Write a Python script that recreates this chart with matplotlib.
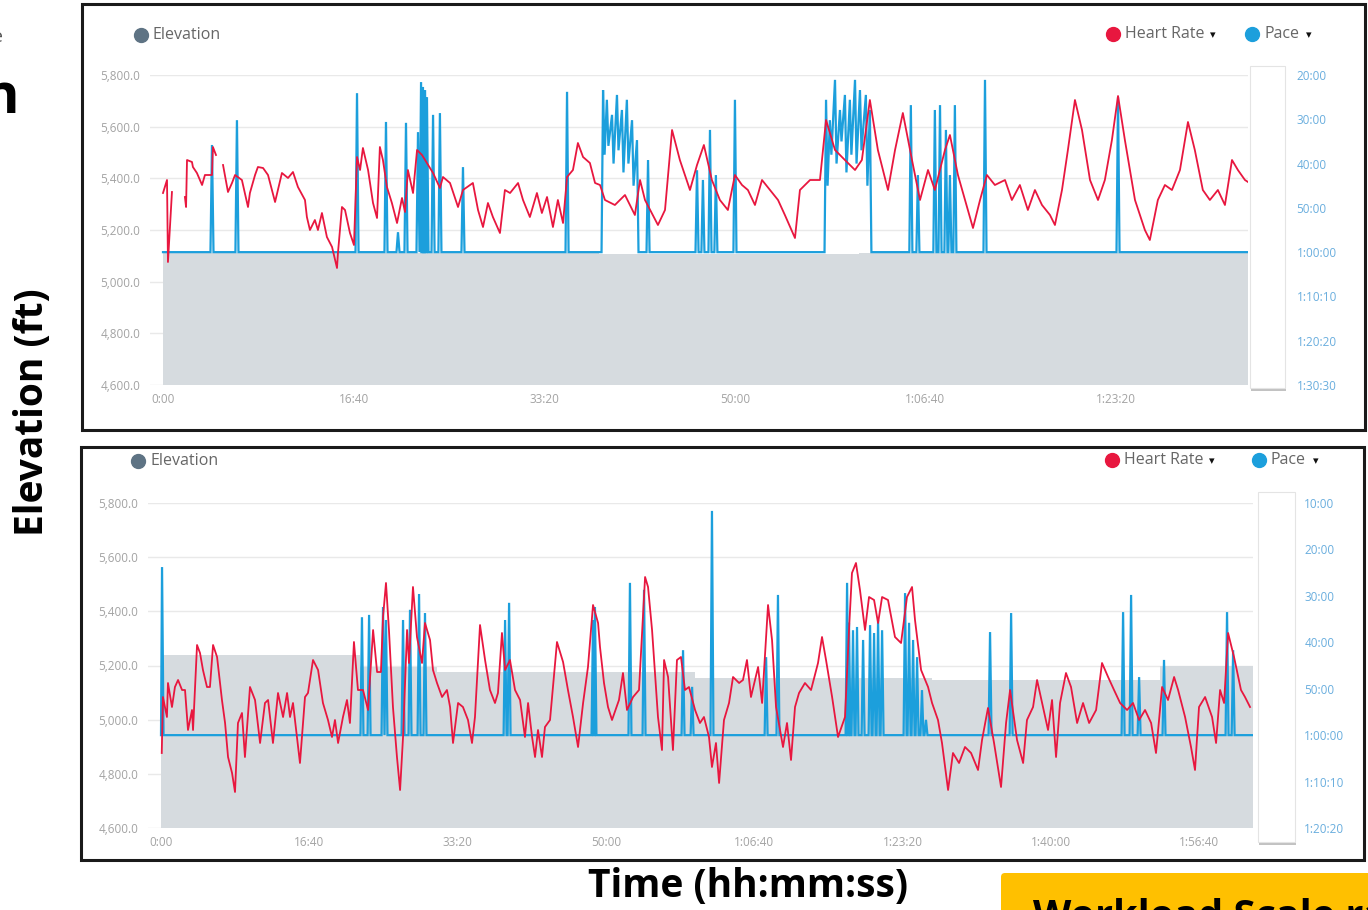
import matplotlib.pyplot as plt
from matplotlib.patches import Rectangle, FancyBboxPatch
import numpy as np

W, H = 1368, 910

# axis ticks (time in seconds, 1000 s = 16:40)
time_ticks_top = [0, 1000, 2000, 3000, 4000, 5000]
time_labels_top = ["0:00", "16:40", "33:20", "50:00", "1:06:40", "1:23:20"]
time_ticks_bot = [0, 1000, 2000, 3000, 4000, 5000, 6000, 7000]
time_labels_bot = ["0:00", "16:40", "33:20", "50:00", "1:06:40", "1:23:20", "1:40:00", "1:56:40"]
elev_ticks = [4600, 4800, 5000, 5200, 5400, 5600, 5800]
elev_labels = ["4,600.0", "4,800.0", "5,000.0", "5,200.0", "5,400.0", "5,600.0", "5,800.0"]
pace_ticks_top = [20, 30, 40, 50, 60, 70, 80, 90]
pace_labels_top = ["20:00", "30:00", "40:00", "50:00", "1:00:00", "1:10:10", "1:20:20", "1:30:30"]
pace_ticks_bot = [10, 20, 30, 40, 50, 60, 70, 80]
pace_labels_bot = ["10:00", "20:00", "30:00", "40:00", "50:00", "1:00:00", "1:10:10", "1:20:20"]

# elevation (ft), stepwise
elev_top_t = [0, 2290, 3650, 5693]
elev_top = [5110, 5106, 5110, 5110]
elev_bot_t = [0, 1342, 1861, 3601, 5199, 6736, 7363]
elev_bot = [5240, 5195, 5175, 5155, 5148, 5200, 5200]

# heart rate (bpm, hidden axis) as (seconds, bpm); nan = gap in record
hr_top = [(0, 136), (21, 142.5), (26, 101.5), (47, 136.5), (60, np.nan), (100, 142.5), (110, np.nan),
          (115, 134), (121, 129), (126, 152.5), (152, 151.5), (157, 149), (178, 146), (205, 140),
          (220, 145), (257, 145), (262, 159), (278, 155), (290, np.nan), (315, 150), (341, 136.5),
          (362, 141), (378, 145), (414, 142.5), (446, 129), (456, 136), (483, 145), (498, 149),
          (525, 148.5), (551, 145), (588, 131.5), (624, 146), (656, 143.5), (682, 146.5), (708, 139),
          (745, 132.5), (755, 124), (771, 117.5), (797, 122.5), (813, 117.5), (834, 126), (860, 114),
          (887, 109), (913, 98.5), (918, 106), (939, 129), (955, 127.5), (981, 116), (1002, 110),
          (1018, 154), (1034, 147.5), (1049, 158.5), (1076, 147.5), (1102, 131), (1123, 123.5),
          (1138, 159), (1154, 152.5), (1175, 139), (1201, 131), (1228, 121), (1254, 133.5),
          (1270, 126.5), (1285, 147.5), (1312, 136), (1333, 157.5), (1359, 155), (1385, 151),
          (1417, 146), (1453, 138.5), (1469, 144), (1506, 141), (1548, 129), (1574, 137.5),
          (1626, 141), (1653, 127.5), (1679, 119), (1705, 131), (1731, 124), (1768, 116),
          (1794, 137.5), (1821, 136), (1863, 141), (1889, 132.5), (1925, 124), (1962, 136),
          (1988, 126), (2015, 134), (2046, 119), (2072, 132.5), (2099, 121), (2120, 144),
          (2151, 147.5), (2177, 161), (2204, 154), (2240, 151), (2267, 141), (2293, 140),
          (2319, 132.5), (2371, 130), (2424, 135), (2476, 125), (2503, 142.5), (2529, 132.5),
          (2597, 120), (2634, 127.5), (2671, 167.5), (2712, 152.5), (2765, 137.5), (2802, 150),
          (2838, 160), (2880, 142.5), (2922, 132.5), (2964, 127.5), (3001, 145), (3038, 140),
          (3069, 137.5), (3106, 130), (3143, 142.5), (3185, 137.5), (3227, 132.5), (3263, 125),
          (3316, 113.5), (3342, 137.5), (3395, 142.5), (3447, 142.5), (3479, 172.5), (3526, 157.5),
          (3578, 152.5), (3631, 147.5), (3667, 152.5), (3709, 182.5), (3751, 157.5), (3804, 137.5),
          (3841, 157.5), (3882, 176), (3930, 152.5), (3972, 132.5), (4014, 147.5), (4050, 137.5),
          (4103, 157.5), (4129, 165), (4171, 145), (4208, 132.5), (4250, 118.5), (4287, 132.5),
          (4323, 145), (4365, 140), (4418, 142.5), (4454, 132.5), (4496, 140), (4538, 127.5),
          (4575, 137.5), (4612, 130), (4654, 125), (4680, 120), (4717, 137.5), (4748, 157.5),
          (4785, 182.5), (4822, 167.5), (4864, 142.5), (4906, 132.5), (4942, 142.5), (4979, 162.5),
          (5011, 184.5), (5047, 162.5), (5100, 132.5), (5152, 117.5), (5178, 112.5), (5220, 132.5),
          (5257, 140), (5294, 137.5), (5336, 147.5), (5378, 171.5), (5414, 157.5), (5456, 137.5),
          (5493, 132.5), (5535, 137.5), (5572, 130), (5609, 152.5), (5640, 147.5), (5677, 142.5),
          (5693, 141.5)]

hr_bot = [(5, 107.5), (13, 135.5), (40, 125.5), (47, 142.5), (74, 130.5), (94, 140.5), (115, 144),
          (142, 139), (162, 139), (182, 119), (209, 129), (216, 119), (243, 161.5), (263, 157.5),
          (283, 149), (310, 140.5), (330, 140.5), (351, 161.5), (378, 155.5), (411, 134), (432, 122.5),
          (452, 105.5), (479, 97.5), (499, 88), (519, 122.5), (546, 127.5), (566, 105.5), (600, 140.5),
          (634, 134), (668, 112.5), (701, 132.5), (722, 134), (755, 112.5), (789, 137.5), (823, 125.5),
          (850, 137.5), (870, 125.5), (890, 132.5), (937, 102.5), (971, 135.5), (991, 137.5),
          (1025, 154), (1059, 149), (1092, 132.5), (1126, 124), (1153, 115.5), (1173, 124),
          (1194, 112.5), (1227, 125.5), (1254, 134), (1274, 122.5), (1301, 163), (1328, 139),
          (1362, 139), (1396, 129), (1430, 169), (1457, 148), (1483, 148), (1497, 175.5),
          (1517, 192.5), (1537, 169), (1564, 130.5), (1591, 105.5), (1612, 89), (1632, 115.5),
          (1659, 169), (1672, 152.5), (1699, 190.5), (1726, 165.5), (1760, 152.5), (1780, 172.5),
          (1814, 164), (1834, 149), (1861, 142.5), (1895, 135.5), (1928, 139), (1949, 130.5),
          (1969, 112.5), (2003, 132.5), (2036, 130.5), (2070, 124), (2097, 112.5), (2117, 125.5),
          (2151, 171.5), (2185, 154), (2218, 139), (2252, 132.5), (2272, 137.5), (2299, 167.5),
          (2320, 149), (2353, 154), (2387, 139), (2421, 134), (2454, 115.5), (2475, 132.5),
          (2502, 115.5), (2522, 105.5), (2542, 119), (2569, 105.5), (2589, 120.5), (2623, 124),
          (2670, 163), (2711, 153), (2744, 139), (2778, 125.5), (2812, 110.5), (2846, 132.5),
          (2879, 150.5), (2913, 181.5), (2947, 172.5), (2960, 160.5), (2987, 142.5), (3014, 130.5),
          (3041, 124), (3088, 134), (3115, 147.5), (3142, 129), (3183, 135.5), (3223, 139),
          (3264, 195.5), (3284, 190.5), (3311, 169), (3351, 125.5), (3378, 109), (3392, 154),
          (3419, 145.5), (3452, 109), (3479, 154), (3506, 155.5), (3533, 139), (3560, 140.5),
          (3601, 129), (3634, 122.5), (3661, 125.5), (3695, 115.5), (3715, 100.5), (3742, 112.5),
          (3763, 92.5), (3796, 124), (3830, 132.5), (3857, 145.5), (3898, 142.5), (3924, 144),
          (3951, 154), (3978, 135.5), (4026, 150.5), (4053, 132.5), (4093, 181.5), (4120, 164),
          (4147, 130.5), (4194, 110.5), (4221, 122.5), (4248, 104), (4275, 130.5), (4302, 137.5),
          (4342, 142.5), (4383, 139), (4430, 152.5), (4457, 165.5), (4484, 154), (4525, 135.5),
          (4565, 115.5), (4612, 125.5), (4639, 169), (4659, 197.5), (4686, 202.5), (4713, 189),
          (4747, 169), (4774, 185.5), (4808, 184), (4835, 172.5), (4862, 185.5), (4902, 184),
          (4949, 165.5), (4990, 162.5), (5030, 185.5), (5064, 190.5), (5084, 174), (5125, 149),
          (5172, 140.5), (5199, 132.5), (5239, 124), (5266, 112.5), (5307, 89), (5340, 107.5),
          (5381, 102.5), (5421, 110.5), (5462, 107.5), (5509, 99), (5536, 114), (5576, 130),
          (5617, 112.5), (5664, 90.5), (5698, 122.5), (5725, 139), (5772, 114), (5813, 102.5),
          (5839, 124), (5880, 130.5), (5907, 144), (5941, 132.5), (5981, 119), (6008, 134),
          (6035, 105.5), (6062, 132.5), (6102, 147.5), (6136, 140.5), (6177, 122.5), (6217, 132.5),
          (6258, 122.5), (6305, 129), (6345, 152.5), (6386, 145.5), (6426, 139), (6467, 132.5),
          (6514, 129), (6554, 132.5), (6595, 124), (6635, 129), (6676, 122.5), (6709, 107.5),
          (6750, 140.5), (6790, 134), (6831, 145.5), (6858, 139), (6905, 125.5), (6945, 110.5),
          (6972, 99), (6999, 130.5), (7040, 135.5), (7087, 125.5), (7114, 112.5), (7141, 139),
          (7168, 132.5), (7195, 167.5), (7235, 155.5), (7282, 139), (7309, 135.5), (7343, 130.5)]

# pace (minutes): resting line plus spikes as (seconds, peak, value the line falls back to)
pace_base = 60
pace_end_top, pace_end_bot = 5693, 7363
pace_spikes_top = [(257, 35.8, 60), (388, 30.2, 60), (1018, 24.1, 60), (1170, 30.6, 60), (1233, 55.5, 60),
                   (1275, 30.8, 60), (1338, 32.9, 60), (1354, 21.6, 60), (1364, 22.7, 60), (1375, 23.4, 60),
                   (1385, 25.0, 60), (1417, 29.0, 60), (1453, 28.6, 60), (1574, 40.8, 60), (2120, 23.8, 60),
                   (2309, 23.4, 38), (2329, 25.6, 36), (2356, 29.0, 40), (2382, 24.5, 37), (2408, 27.9, 42),
                   (2434, 25.6, 40), (2461, 30.2, 45), (2487, 34.7, 60), (2545, 39.2, 60),
                   (2802, 41.5, 60), (2833, 43.7, 60), (2870, 32.4, 60), (2901, 42.6, 60), (3001, 25.6, 60),
                   (3479, 25.6, 45), (3499, 30.2, 38), (3526, 21.1, 40), (3552, 27.9, 35), (3578, 24.5, 42),
                   (3604, 25.6, 38), (3631, 21.1, 40), (3657, 23.4, 37), (3688, 24.5, 45), (3709, 27.9, 60),
                   (3924, 26.8, 60), (3961, 42.6, 60), (4050, 27.9, 60), (4077, 26.8, 60), (4108, 32.4, 60),
                   (4129, 42.6, 60), (4155, 26.8, 60), (4313, 21.1, 60), (5011, 25.0, 60)]
pace_spikes_bot = [(7, 23.8, 60), (1355, 34.6, 60), (1403, 34.1, 60), (1497, 32.4, 60), (1517, 35.2, 60),
                   (1632, 35.2, 60), (1679, 33.0, 60), (1740, 29.6, 60), (1780, 33.7, 60), (2320, 35.2, 60),
                   (2347, 31.5, 60), (2913, 35.2, 60), (2926, 32.4, 60), (3162, 27.2, 60), (3257, 28.7, 60),
                   (3520, 41.7, 60), (3581, 49.6, 60), (3715, 11.7, 60), (4080, 43.2, 60), (4160, 29.8, 60),
                   (4626, 27.2, 60), (4639, 35.8, 60), (4666, 37.4, 60), (4693, 36.7, 60), (4734, 39.5, 60),
                   (4781, 36.3, 60), (4808, 38.0, 60), (4835, 35.2, 60), (4862, 37.4, 60), (5017, 29.4, 60),
                   (5044, 35.8, 60), (5071, 39.5, 60), (5098, 43.2, 60), (5131, 50.3, 60), (5158, 56.7, 60),
                   (5590, 37.8, 60), (5732, 33.7, 60), (6487, 33.5, 60), (6541, 29.8, 60), (6595, 47.5, 60),
                   (6763, 43.8, 60), (7188, 33.5, 60), (7229, 41.7, 60)]

RED = "#e8173f"
BLUE = "#1c9fdc"
FILL = "#d6dbdf"
GRID = "#e9e9e9"
TICK = "#a3a3a3"
PACE_TXT = "#6aaede"
FONT = ["Open Sans", "DejaVu Sans"]


def pace_line(spikes, end, w):
    t, p = [0], [pace_base]
    for st, sp, back in spikes:
        if p[-1] == pace_base:
            t.append(max(st - w, 0))
            p.append(pace_base)
        t += [st, st + w]
        p += [sp, back]
    t.append(end)
    p.append(pace_base)
    return t, p


def px_axes(fig, left, right, top, bottom):
    return fig.add_axes([left / W, 1 - bottom / H, (right - left) / W, (bottom - top) / H])


fig = plt.figure(figsize=(W / 100, H / 100), dpi=100)
fig.patch.set_facecolor("white")

# background layer in pixel coordinates
bg = fig.add_axes([0, 0, 1, 1])
bg.set_xlim(0, W)
bg.set_ylim(H, 0)
bg.axis("off")

panels = [
    dict(box=(82, 4, 1283, 426), ax=(150, 1248, 75, 385), t0=163, sec_px=5.2466,
         elev_t=elev_top_t, elev=elev_top, hr=hr_top, hr_lim=(40, 195), pace=pace_spikes_top,
         end=pace_end_top, pace_lim=(90, 20), pace_ticks=pace_ticks_top, pace_labels=pace_labels_top,
         xt=time_ticks_top, xl=time_labels_top, slider=(1250, 66, 35, 322), pace_pad=35,
         leg_y=35, leg_x=(141, 1113, 1252), w=8),
    dict(box=(81, 447, 1283, 413), ax=(148, 1253, 503, 828), t0=161, sec_px=6.743,
         elev_t=elev_bot_t, elev=elev_bot, hr=hr_bot, hr_lim=(70, 232.5), pace=pace_spikes_bot,
         end=pace_end_bot, pace_lim=(80, 10), pace_ticks=pace_ticks_bot, pace_labels=pace_labels_bot,
         xt=time_ticks_bot, xl=time_labels_bot, slider=(1258, 492, 37, 350), pace_pad=37,
         leg_y=461, leg_x=(138, 1112, 1259), w=10),
]

for pn in panels:
    bx, by, bw, bh = pn["box"]
    bg.add_patch(Rectangle((bx, by), bw, bh, fill=False, edgecolor="#1a1a1a", linewidth=2.2))
    sx, sy, sw, sh = pn["slider"]
    bg.add_patch(Rectangle((sx + 1, sy + 3), sw, sh, facecolor="#9a9a9a", edgecolor="none", alpha=0.6))
    bg.add_patch(Rectangle((sx, sy), sw, sh, facecolor="white", edgecolor="#e4e4e4", linewidth=0.8))

    # legend
    lx_e, lx_h, lx_p = pn["leg_x"]
    ly = pn["leg_y"]
    bg.plot([lx_e], [ly], "o", color="#5e7384", markersize=10)
    bg.text(lx_e + 12, ly, "Elevation", fontsize=11.5, color="#666666", va="center", family=FONT)
    bg.plot([lx_h], [ly - 1], "o", color=RED, markersize=10)
    bg.text(lx_h + 12, ly - 1, "Heart Rate", fontsize=11.5, color="#666666", va="center", family=FONT)
    bg.text(lx_h + 97, ly, "\u25BE", fontsize=8, color="#111111", va="center", family="DejaVu Sans")
    bg.plot([lx_p], [ly - 1], "o", color=BLUE, markersize=10)
    bg.text(lx_p + 12, ly - 1, "Pace", fontsize=11.5, color="#666666", va="center", family=FONT)
    bg.text(lx_p + 54, ly, "\u25BE", fontsize=8, color="#111111", va="center", family="DejaVu Sans")

    left, right, top, bottom = pn["ax"]
    ax = px_axes(fig, left, right, top, bottom)
    ax.set_facecolor("none")
    x_left = -(pn["t0"] - left) * pn["sec_px"]
    ax.set_xlim(x_left, pn["end"])
    ax.set_ylim(4600, 5800)
    ax.fill_between(pn["elev_t"], 4600, pn["elev"], step="post", color=FILL, linewidth=0, zorder=1)
    ax.set_yticks(elev_ticks)
    ax.set_yticklabels(elev_labels)
    ax.set_xticks(pn["xt"])
    ax.set_xticklabels(pn["xl"])
    ax.grid(axis="y", color=GRID, linewidth=1.0, zorder=0)
    ax.set_axisbelow(True)
    for s in ax.spines.values():
        s.set_visible(False)
    ax.tick_params(length=0, labelsize=8.5, labelcolor=TICK)
    ax.tick_params(axis="y", pad=7)
    ax.tick_params(axis="x", pad=6)
    for lab in ax.get_xticklabels() + ax.get_yticklabels():
        lab.set_family("Open Sans")

    axp = ax.twinx()
    pt, pv = pace_line(pn["pace"], pn["end"], pn["w"])
    axp.plot(pt, pv, color=BLUE, linewidth=1.6, solid_joinstyle="miter")
    axp.set_ylim(*pn["pace_lim"])
    axp.set_yticks(pn["pace_ticks"])
    axp.set_yticklabels(pn["pace_labels"])
    axp.tick_params(length=0, labelsize=8.5, labelcolor=PACE_TXT, pad=pn["pace_pad"])
    for lab in axp.get_yticklabels():
        lab.set_family("Open Sans")
    for s in axp.spines.values():
        s.set_visible(False)

    axh = ax.twinx()
    hr = np.array(pn["hr"], dtype=float).T
    axh.plot(hr[0], hr[1], color=RED, linewidth=1.3)
    axh.set_ylim(*pn["hr_lim"])
    axh.set_yticks([])
    for s in axh.spines.values():
        s.set_visible(False)
    axh.set_xlim(x_left, pn["end"])

# slide text around the charts
bg.text(33, 412, "Elevation (ft)", rotation=90, fontsize=28, fontweight="bold", color="black",
        ha="center", va="center", family=FONT)
bg.text(748, 886, "Time (hh:mm:ss)", fontsize=28, fontweight="bold", color="black",
        ha="center", va="center", family=FONT)
bg.text(19, 113, "n", fontsize=40, fontweight="bold", color="black", ha="right", va="baseline",
        family=FONT)
bg.text(3, 42, "e", fontsize=14, color="#555555", ha="right", va="baseline", family=FONT)
bg.add_patch(FancyBboxPatch((1001, 873), 420, 80, boxstyle="round,pad=0,rounding_size=4",
                            facecolor="#ffc000", edgecolor="none"))
bg.text(1033, 928, "Workload Scale rating", fontsize=28.5, fontweight="bold", color="black",
        ha="left", va="baseline", family=FONT)

fig.savefig("out.png", dpi=100)
